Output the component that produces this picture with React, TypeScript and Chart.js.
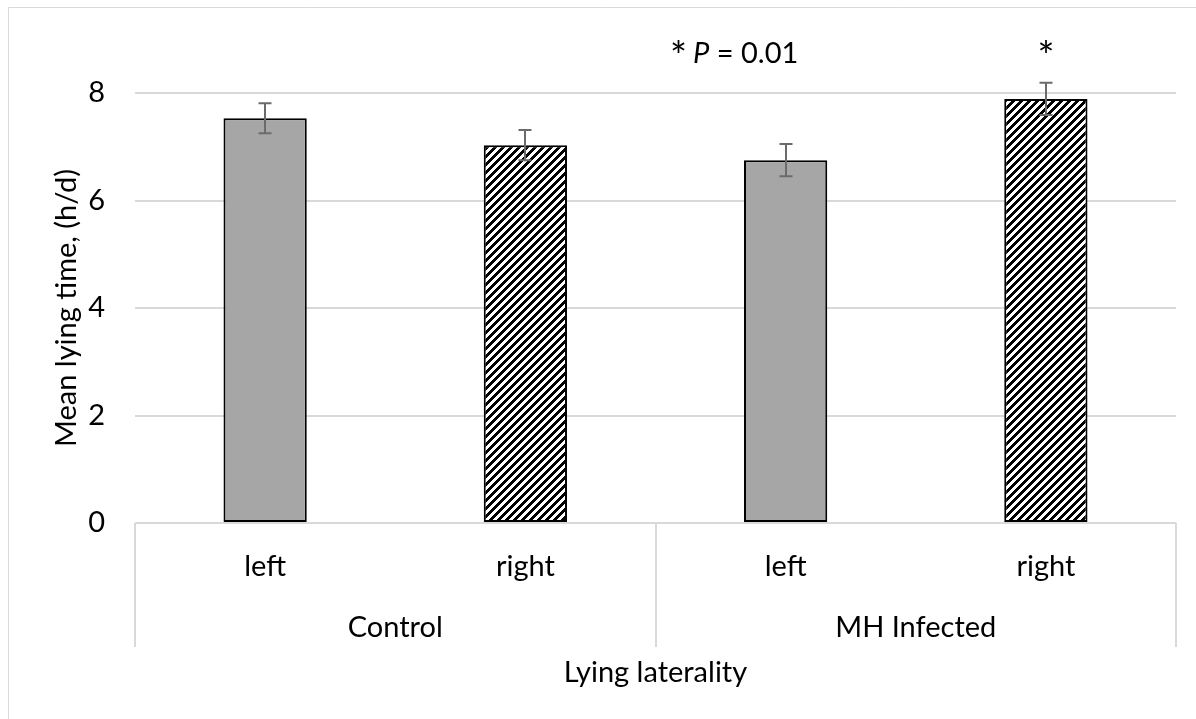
import React, { useEffect, useRef } from "react";
import { Chart, registerables } from "chart.js";

Chart.register(...registerables);

// Lying laterality by treatment group
const sides = ["left", "right", "left", "right"];
const groups = ["Control", "MH Infected"];
const meanLying = [7.53, 7.03, 6.75, 7.89];
const stdError = [0.28, 0.28, 0.3, 0.3];
const yTicks = [0, 2, 4, 6, 8];

const FONT = "Lato, 'Open Sans', sans-serif";
const FONT_SIZE = 29;
const STAR_SIZE = 40;
const GRID = "#d9d9d9";

function makeHatch(): CanvasPattern | string {
  const tile = document.createElement("canvas");
  tile.width = 8;
  tile.height = 8;
  const c = tile.getContext("2d");
  if (!c) return "#ffffff";
  c.fillStyle = "#ffffff";
  c.fillRect(0, 0, 8, 8);
  c.fillStyle = "#000000";
  for (let x = 0; x < 8; x++) {
    for (let y = 0; y < 8; y++) {
      if ((x + y) % 8 < 4) c.fillRect(x, y, 1, 1);
    }
  }
  const p = c.createPattern(tile, "repeat");
  return p || "#ffffff";
}

const decorations = {
  id: "decorations",
  beforeDraw(chart: any) {
    const { ctx } = chart;
    ctx.save();
    ctx.strokeStyle = GRID;
    ctx.lineWidth = 1;
    ctx.beginPath();
    ctx.moveTo(8.5, chart.height);
    ctx.lineTo(8.5, 7.5);
    ctx.lineTo(chart.width, 7.5);
    ctx.stroke();
    ctx.restore();
  },
  afterDatasetsDraw(chart: any) {
    const { ctx, chartArea } = chart;
    const x = chart.scales.x;
    const y = chart.scales.y;
    const meta = chart.getDatasetMeta(0);

    // error bars
    ctx.save();
    ctx.strokeStyle = "#6b6b6b";
    ctx.lineWidth = 2;
    meta.data.forEach((bar: any, i: number) => {
      const cx = Math.round(bar.x);
      const top = y.getPixelForValue(meanLying[i] + stdError[i]);
      const bot = y.getPixelForValue(meanLying[i] - stdError[i]);
      ctx.beginPath();
      ctx.moveTo(cx, top);
      ctx.lineTo(cx, bot);
      ctx.moveTo(cx - 6.5, top);
      ctx.lineTo(cx + 6.5, top);
      ctx.moveTo(cx - 6.5, bot);
      ctx.lineTo(cx + 6.5, bot);
      ctx.stroke();
    });
    ctx.restore();

    // group boxes below the category axis
    const boxBottom = 647;
    const perGroup = sides.length / groups.length;
    const half = (x.getPixelForValue(1) - x.getPixelForValue(0)) / 2;
    ctx.save();
    ctx.strokeStyle = GRID;
    ctx.lineWidth = 2;
    ctx.beginPath();
    for (let g = 0; g <= groups.length; g++) {
      const idx = Math.min(g * perGroup, sides.length - 1);
      const edge =
        g * perGroup < sides.length
          ? x.getPixelForValue(idx) - half
          : x.getPixelForValue(idx) + half;
      ctx.moveTo(Math.round(edge), chartArea.bottom);
      ctx.lineTo(Math.round(edge), boxBottom);
    }
    ctx.stroke();

    ctx.fillStyle = "#000000";
    ctx.font = `${FONT_SIZE}px ${FONT}`;
    ctx.textAlign = "center";
    ctx.textBaseline = "middle";
    groups.forEach((name, g) => {
      const a = x.getPixelForValue(g * perGroup);
      const b = x.getPixelForValue(g * perGroup + perGroup - 1);
      ctx.fillText(name, (a + b) / 2, 628);
    });

    // significance marks
    ctx.textAlign = "left";
    ctx.textBaseline = "alphabetic";
    const baseY = 63;
    const starY = 71;
    const star = "*";
    const italicP = "P";
    const rest = " = 0.01";
    let tx = 670;
    ctx.font = `${STAR_SIZE}px ${FONT}`;
    ctx.fillText(star, tx, starY);
    tx += ctx.measureText(star).width + 6;
    ctx.font = `italic ${FONT_SIZE}px ${FONT}`;
    ctx.fillText(italicP, tx, baseY);
    tx += ctx.measureText(italicP).width;
    ctx.font = `${FONT_SIZE}px ${FONT}`;
    ctx.fillText(rest, tx, baseY);

    ctx.textAlign = "center";
    ctx.font = `${STAR_SIZE}px ${FONT}`;
    const last = meta.data[meta.data.length - 1];
    ctx.fillText(star, last.x, starY);
    ctx.restore();
  },
};

export default function App() {
  const ref = useRef<HTMLCanvasElement | null>(null);

  useEffect(() => {
    if (!ref.current) return;
    const hatch = makeHatch();
    const fills = sides.map((s) => (s === "left" ? "#a6a6a6" : hatch));

    const chart = new Chart(ref.current, {
      type: "bar",
      data: {
        labels: sides,
        datasets: [
          {
            data: meanLying,
            backgroundColor: fills as any,
            borderColor: "#000000",
            borderWidth: 2,
            borderSkipped: false,
            categoryPercentage: 1,
            barPercentage: 0.32,
          },
        ],
      },
      options: {
        animation: false,
        responsive: false,
        layout: { padding: { top: 93, right: 20, bottom: 0, left: 0 } },
        plugins: {
          legend: { display: false },
          tooltip: { enabled: false },
        },
        scales: {
          x: {
            grid: { display: false, drawTicks: false },
            border: { display: false },
            ticks: {
              color: "#000000",
              font: { family: FONT, size: FONT_SIZE },
              padding: 26,
              maxRotation: 0,
            },
            title: {
              display: true,
              text: "Lying laterality",
              color: "#000000",
              font: { family: FONT, size: FONT_SIZE },
              padding: { top: 0, bottom: 29 },
            },
            afterFit: (scale: any) => {
              scale.height = 196;
            },
          },
          y: {
            min: 0,
            max: 8,
            grid: { color: GRID, lineWidth: 2, drawTicks: false },
            border: { display: false },
            afterBuildTicks: (scale: any) => {
              scale.ticks = yTicks.map((v) => ({ value: v }));
            },
            ticks: {
              color: "#000000",
              font: { family: FONT, size: FONT_SIZE },
              padding: 30,
            },
            title: {
              display: true,
              text: "Mean lying time, (h/d)",
              color: "#000000",
              font: { family: FONT, size: FONT_SIZE },
              padding: { top: 49, bottom: 0 },
            },
            afterFit: (scale: any) => {
              scale.width = 135;
            },
          },
        },
      },
      plugins: [decorations],
    });
    return () => chart.destroy();
  }, []);

  return (
    <div style={{ position: "fixed", left: 0, top: 0, width: 1196, height: 719, background: "#ffffff" }}>
      <canvas ref={ref} width={1196} height={719} style={{ display: "block" }} />
    </div>
  );
}
